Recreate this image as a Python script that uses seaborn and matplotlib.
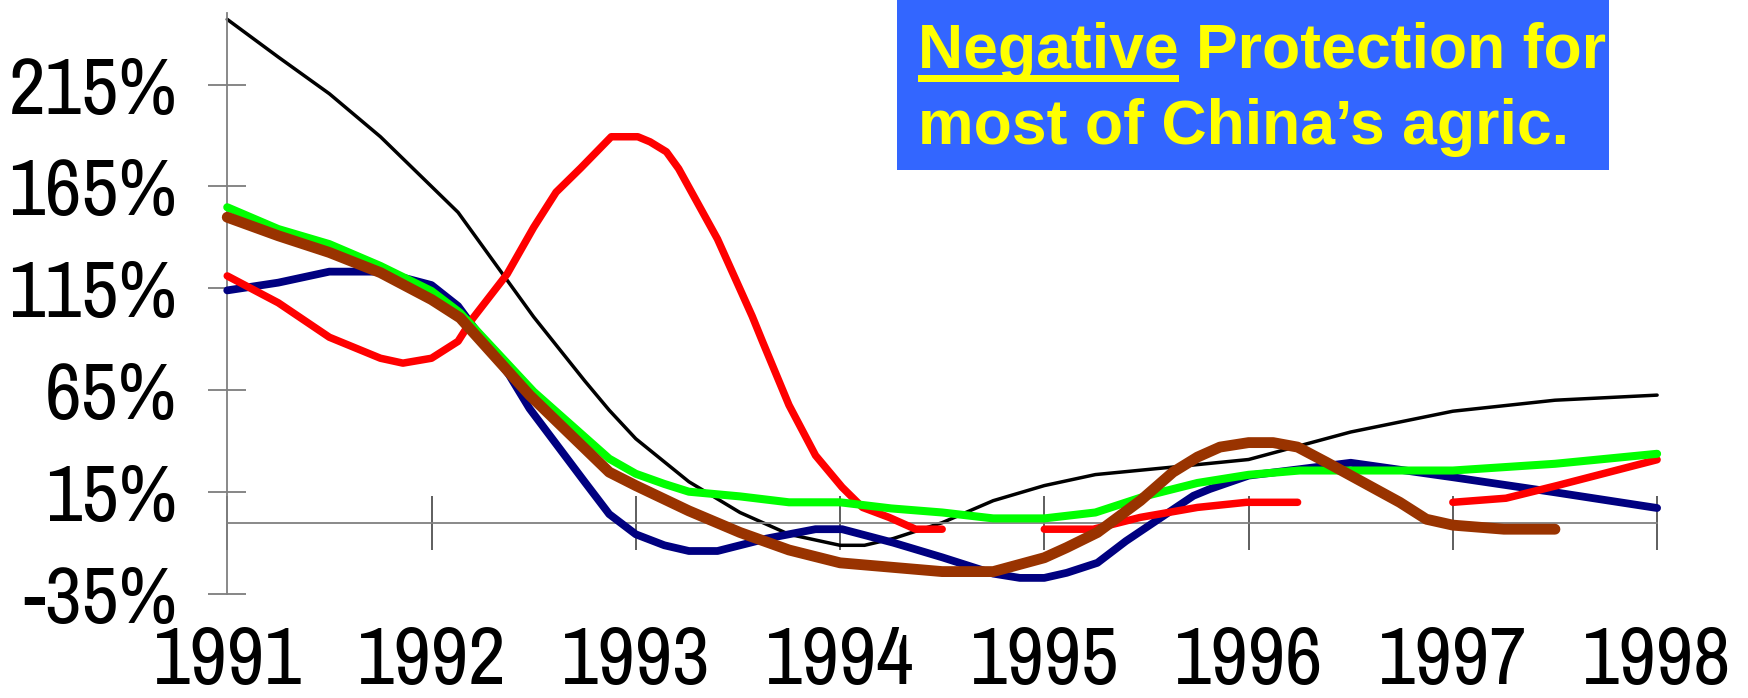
import numpy as np
import pandas as pd
import matplotlib
matplotlib.use("Agg")
import matplotlib.pyplot as plt
from matplotlib.patches import Rectangle
import seaborn as sns

# Data (year, % protection)
BLACK_YEARS = [1991.00, 1991.25, 1991.50, 1991.75, 1992.13, 1992.50, 1992.75, 1992.87,
               1993.00, 1993.26, 1993.51, 1993.75, 1994.00, 1994.12, 1994.26, 1994.50,
               1994.75, 1995.00, 1995.25, 1995.63, 1996.00, 1996.50, 1997.00, 1997.50, 1998.00]
BLACK_VALUES = [247, 228.5, 210.5, 189.4, 152.3, 101, 69.6, 55.2,
                41.2, 20.1, 5.0, -5.7, -11.1, -11.1, -7.8, 0.0,
                10.8, 18.2, 23.6, 27.3, 31.0, 44.5, 54.7, 60.1, 62.6]

NAVY_YEARS = [1991.00, 1991.25, 1991.50, 1991.75, 1992.00, 1992.13, 1992.38, 1992.48,
              1992.75, 1992.87, 1993.00, 1993.14, 1993.26, 1993.40, 1993.64, 1993.88,
              1994.01, 1994.26, 1994.50, 1994.75, 1994.88, 1995.00, 1995.11, 1995.26,
              1995.40, 1995.73, 1995.81, 1996.00, 1996.50, 1997.00, 1997.50, 1998.00]
NAVY_VALUES = [114, 117.8, 123.2, 123.2, 116.6, 106.3, 72.5, 56,
               20, 4.2, -5.7, -11.1, -13.9, -13.9, -7.8, -3.2,
               -3.2, -9.8, -17, -25, -27.1, -27.1, -24.6, -19.7,
               -9.0, 13.2, 16.5, 23.1, 29.4, 22.3, 14.9, 7.2]

RED_YEARS = [1991.00, 1991.25, 1991.50, 1991.75, 1991.86, 1992.00, 1992.13, 1992.20,
             1992.37, 1992.50, 1992.61, 1992.73, 1992.88, 1993.01, 1993.07, 1993.15,
             1993.21, 1993.40, 1993.57, 1993.62, 1993.75, 1993.88, 1994.01, 1994.11,
             1994.24, 1994.37, 1994.50,
             1995.00, 1995.24, 1995.47, 1995.75, 1995.99, 1996.24,
             1997.00, 1997.26, 1997.51, 1998.00]
RED_VALUES = [121.1, 107.9, 91.0, 80.7, 78.3, 80.7, 89.0, 100,
              122, 144.9, 162.2, 174, 189.4, 189.4, 186.9, 182,
              173.7, 139.2, 101.3, 89, 57.7, 33, 17.4, 7.5,
              2.6, -3.2, -3.2,
              -3.2, -3.2, 2.6, 7.5, 10.0, 10.0,
              10.0, 12.0, 18.2, 30.9]
RED_SEGMENT = [1] * 27 + [2] * 6 + [3] * 4

GREEN_YEARS = [1991.00, 1991.25, 1991.50, 1991.75, 1992.00, 1992.14, 1992.50, 1992.87,
               1993.00, 1993.14, 1993.26, 1993.51, 1993.75, 1994.00, 1994.25, 1994.50,
               1994.75, 1995.00, 1995.25, 1995.50, 1995.75, 1996.00, 1996.25, 1996.50,
               1997.00, 1997.50, 1998.00]
GREEN_VALUES = [154.8, 144.1, 136.7, 126, 113.7, 103, 64.3, 31.4,
                24, 19, 15.2, 12.9, 10, 10, 7, 5,
                2.1, 2.1, 5, 13.2, 19.5, 23.5, 25.6, 25.6,
                25.6, 28.9, 33.8]

BROWN_YEARS = [1991.00, 1991.25, 1991.50, 1991.75, 1992.00, 1992.14, 1992.48, 1992.87,
               1993.00, 1993.26, 1993.51, 1993.75, 1994.00, 1994.50, 1994.75, 1995.00,
               1995.11, 1995.26, 1995.47, 1995.63, 1995.75, 1995.86, 1996.00, 1996.12,
               1996.24, 1996.38, 1996.74, 1996.87, 1997.00, 1997.25, 1997.50]
BROWN_VALUES = [149.9, 140.8, 132.6, 122.7, 109.5, 100.5, 62.6, 24.8,
                18.2, 5.8, -4.8, -13.4, -19.7, -24, -24, -17.2,
                -12.2, -4.8, 10.8, 24.8, 32.2, 37.1, 39.3, 39.3,
                37.1, 29.7, 10, 1.7, -1.2, -3.2, -3.2]

YEAR_TICKS = [1991, 1992, 1993, 1994, 1995, 1996, 1997, 1998]
PCT_TICKS = [-35, 15, 65, 115, 165, 215]

# series style: colour, line width (pt), z-order
STYLES = {
    "black": ("#000000", 2.5, 2),
    "navy": ("#000080", 5.6, 3),
    "red": ("#FF0000", 5.4, 4),
    "green": ("#00FF00", 5.8, 5),
    "brown": ("#993300", 7.8, 6),
}

NARROW = ["Liberation Sans Narrow", "Arial Narrow", "Archivo Narrow", "PT Sans Narrow",
          "Liberation Sans", "DejaVu Sans"]


def build_frame():
    parts = []
    for name, yrs, vals, seg in [
        ("black", BLACK_YEARS, BLACK_VALUES, None),
        ("navy", NAVY_YEARS, NAVY_VALUES, None),
        ("red", RED_YEARS, RED_VALUES, RED_SEGMENT),
        ("green", GREEN_YEARS, GREEN_VALUES, None),
        ("brown", BROWN_YEARS, BROWN_VALUES, None),
    ]:
        parts.append(pd.DataFrame({
            "series": name,
            "year": yrs,
            "value": vals,
            "segment": seg if seg is not None else [1] * len(yrs),
        }))
    return pd.concat(parts, ignore_index=True)


sns.set_theme(style="white")
plt.rcParams["font.family"] = NARROW

df = build_frame()

fig = plt.figure(figsize=(17.48, 6.98), dpi=100)
ax = fig.add_axes([0.130, 0.149, 0.818, 0.832])

for name, (color, lw, z) in STYLES.items():
    sub = df[df["series"] == name]
    sns.lineplot(data=sub, x="year", y="value", units="segment", estimator=None,
                 sort=False, color=color, linewidth=lw, zorder=z, ax=ax,
                 legend=False, solid_capstyle="round", clip_on=False)

ax.set_xlim(1991, 1998)
ax.set_ylim(-35, 250)
ax.set_xlabel("")
ax.set_ylabel("")

for side in ["top", "right"]:
    ax.spines[side].set_visible(False)
ax.spines["left"].set_color("#808080")
ax.spines["left"].set_linewidth(1.3)
ax.spines["bottom"].set_position(("data", 0))
ax.spines["bottom"].set_color("#808080")
ax.spines["bottom"].set_linewidth(1.3)

ax.set_xticks(YEAR_TICKS)
ax.set_xticklabels([str(y) for y in YEAR_TICKS])
ax.set_yticks(PCT_TICKS)
ax.set_yticklabels([f"{p}%" for p in PCT_TICKS])
ax.tick_params(axis="x", direction="inout", length=39, width=1.1, color="#333333",
               pad=54, labelsize=59, labelcolor="black", bottom=True)
ax.tick_params(axis="y", direction="inout", length=28, width=1.1, color="#666666",
               pad=22, labelsize=58, labelcolor="black", left=True)

# title box
fig.patches.append(Rectangle((897 / 1748, 1 - 169.5 / 698), (1609 - 897) / 1748, 169.5 / 698,
                             transform=fig.transFigure, facecolor="#3366FF",
                             edgecolor="none", zorder=10))
title_font = dict(family=["Liberation Sans", "DejaVu Sans"], fontweight="bold",
                  fontsize=45, color="#FFFF00", va="baseline", ha="left", zorder=11)
tx = 918 / 1748
fig.text(tx, 1 - 68.3 / 698, "Negative Protection for", **title_font)
fig.text(tx, 1 - 144 / 698, "most of China\u2019s agric.", **title_font)

# underline "Negative"
fig.canvas.draw()
probe = fig.text(tx, 1 - 68.3 / 698, "Negative", alpha=0, **title_font)
bb = probe.get_window_extent(renderer=fig.canvas.get_renderer())
W, H = fig.get_size_inches() * fig.dpi
fig.patches.append(Rectangle((bb.x0 / W, 1 - 81.5 / 698), (bb.x1 - bb.x0) / W, 6.5 / 698,
                             transform=fig.transFigure, facecolor="#FFFF00",
                             edgecolor="none", zorder=11))

fig.savefig("out.png", dpi=100)
